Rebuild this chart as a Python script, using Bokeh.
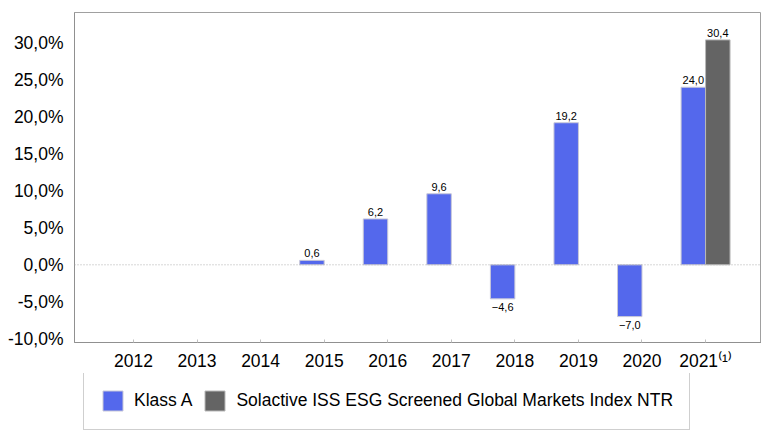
import numpy as np
from bokeh.plotting import figure
from bokeh.layouts import column
from bokeh.models import Range1d, FixedTicker, Span, Legend, LegendItem, ColumnDataSource
from bokeh.core.properties import value
from bokeh.embed import file_html
from bokeh.resources import INLINE

years = ["2012", "2013", "2014", "2015", "2016", "2017", "2018", "2019", "2020", "2021⁽¹⁾"]
klass_a = [None, None, None, 0.6, 6.2, 9.6, -4.6, 19.2, -7.0, 24.0]
index_ntr = [None, None, None, None, None, None, None, None, None, 30.4]
y_ticks = [-10, -5, 0, 5, 10, 15, 20, 25, 30]
series_names = ["Klass A", "Solactive ISS ESG Screened Global Markets Index NTR"]

BLUE = "#5468EC"
GRAY = "#646464"
FONT = "Liberation Sans"
BW = 0.385

x = np.arange(len(years), dtype=float)

def fmt(v):
    s = f"{abs(v):.1f}".replace(".", ",")
    return ("\u2212" + s) if v < 0 else s

def build(vals, off):
    xs, ys, labels = [], [], []
    for xi, v in zip(x, vals):
        if v is None:
            continue
        xs.append(xi + off)
        ys.append(v)
        labels.append(fmt(v))
    return xs, ys, labels

p = figure(width=761, height=373, output_backend="svg", toolbar_location=None,
           x_range=Range1d(-0.928, 9.88), y_range=Range1d(-10.5, 34.1),
           min_border_left=74, min_border_top=12, min_border_right=0, min_border_bottom=30)

styles = [(BLUE, "#c8c8d8"), (GRAY, "#b8b8b8")]
bar_sources = []
for vals, off, (col, lc) in ((klass_a, -BW / 2, styles[0]), (index_ntr, BW / 2, styles[1])):
    xs, ys, labels = build(vals, off)
    src = ColumnDataSource(dict(x=xs, top=ys))
    bar_sources.append(src)
    p.vbar(x="x", top="top", bottom=0, width=BW, source=src,
           fill_color=col, line_color=lc, line_width=1)
    pos = ColumnDataSource(dict(x=[a for a, b in zip(xs, ys) if b >= 0],
                                y=[b for b in ys if b >= 0],
                                t=[l for l, b in zip(labels, ys) if b >= 0]))
    neg = ColumnDataSource(dict(x=[a for a, b in zip(xs, ys) if b < 0],
                                y=[b for b in ys if b < 0],
                                t=[l for l, b in zip(labels, ys) if b < 0]))
    p.text(x="x", y="y", text="t", source=pos, text_align="center", text_baseline="bottom",
           y_offset=-3, text_font=value(FONT), text_font_size="11px", text_color="#000")
    p.text(x="x", y="y", text="t", source=neg, text_align="center", text_baseline="top",
           y_offset=4, text_font=value(FONT), text_font_size="11px", text_color="#000")

p.add_layout(Span(location=0, dimension="width", line_color="#b0b0b0",
                  line_dash="1 2", line_width=1))

p.xgrid.visible = False
p.ygrid.visible = False
p.outline_line_color = "#a0a0a0"

p.xaxis.ticker = FixedTicker(ticks=list(x))
p.xaxis.major_label_overrides = {int(i): y for i, y in zip(x, years)}
p.xaxis.major_tick_in = 3
p.xaxis.major_tick_out = 0
p.xaxis.major_tick_line_color = "#c0c0c0"
p.xaxis.minor_tick_line_color = None
p.xaxis.axis_line_color = "#909090"
p.xaxis.major_label_standoff = 8
p.xaxis.major_label_text_font = FONT
p.xaxis.major_label_text_font_size = "17.5px"
p.xaxis.major_label_text_color = "#000"

p.yaxis.ticker = FixedTicker(ticks=y_ticks)
p.yaxis.major_label_overrides = {t: f"{t:.1f}".replace(".", ",") + "%" for t in y_ticks}
p.yaxis.major_tick_line_color = None
p.yaxis.minor_tick_line_color = None
p.yaxis.axis_line_color = "#909090"
p.yaxis.major_label_standoff = 5
p.yaxis.major_label_text_font = FONT
p.yaxis.major_label_text_font_size = "17.5px"
p.yaxis.major_label_text_color = "#000"

# Legend panel: proxy renderers share the bar data, kept outside this panel's visible range
lf = figure(width=761, height=57, output_backend="svg", toolbar_location=None,
            x_range=Range1d(-100, -99), y_range=Range1d(-100, -99),
            x_axis_location=None, y_axis_location=None,
            min_border_left=0, min_border_right=0, min_border_top=0, min_border_bottom=0)
lf.xgrid.visible = False
lf.ygrid.visible = False
lf.outline_line_color = None
proxies = []
for src, (col, lc) in zip(bar_sources, styles):
    proxies.append(lf.vbar(x="x", top="top", bottom=0, width=BW, source=src,
                           fill_color=col, line_color=lc, line_width=1))

legend = Legend(items=[LegendItem(label=series_names[0], renderers=[proxies[0]]),
                       LegendItem(label=series_names[1], renderers=[proxies[1]])],
                orientation="horizontal", location=(9, 0), margin=0,
                padding=16, spacing=10, label_standoff=9,
                glyph_width=25, glyph_height=25,
                label_text_font=FONT, label_text_font_size="17.5px",
                label_text_color="#000",
                border_line_color="#a0a0a0", border_line_width=1,
                background_fill_alpha=1.0)
lf.add_layout(legend, "center")

layout = column(p, lf, spacing=0)
open("out.html", "w").write(file_html(layout, INLINE))
